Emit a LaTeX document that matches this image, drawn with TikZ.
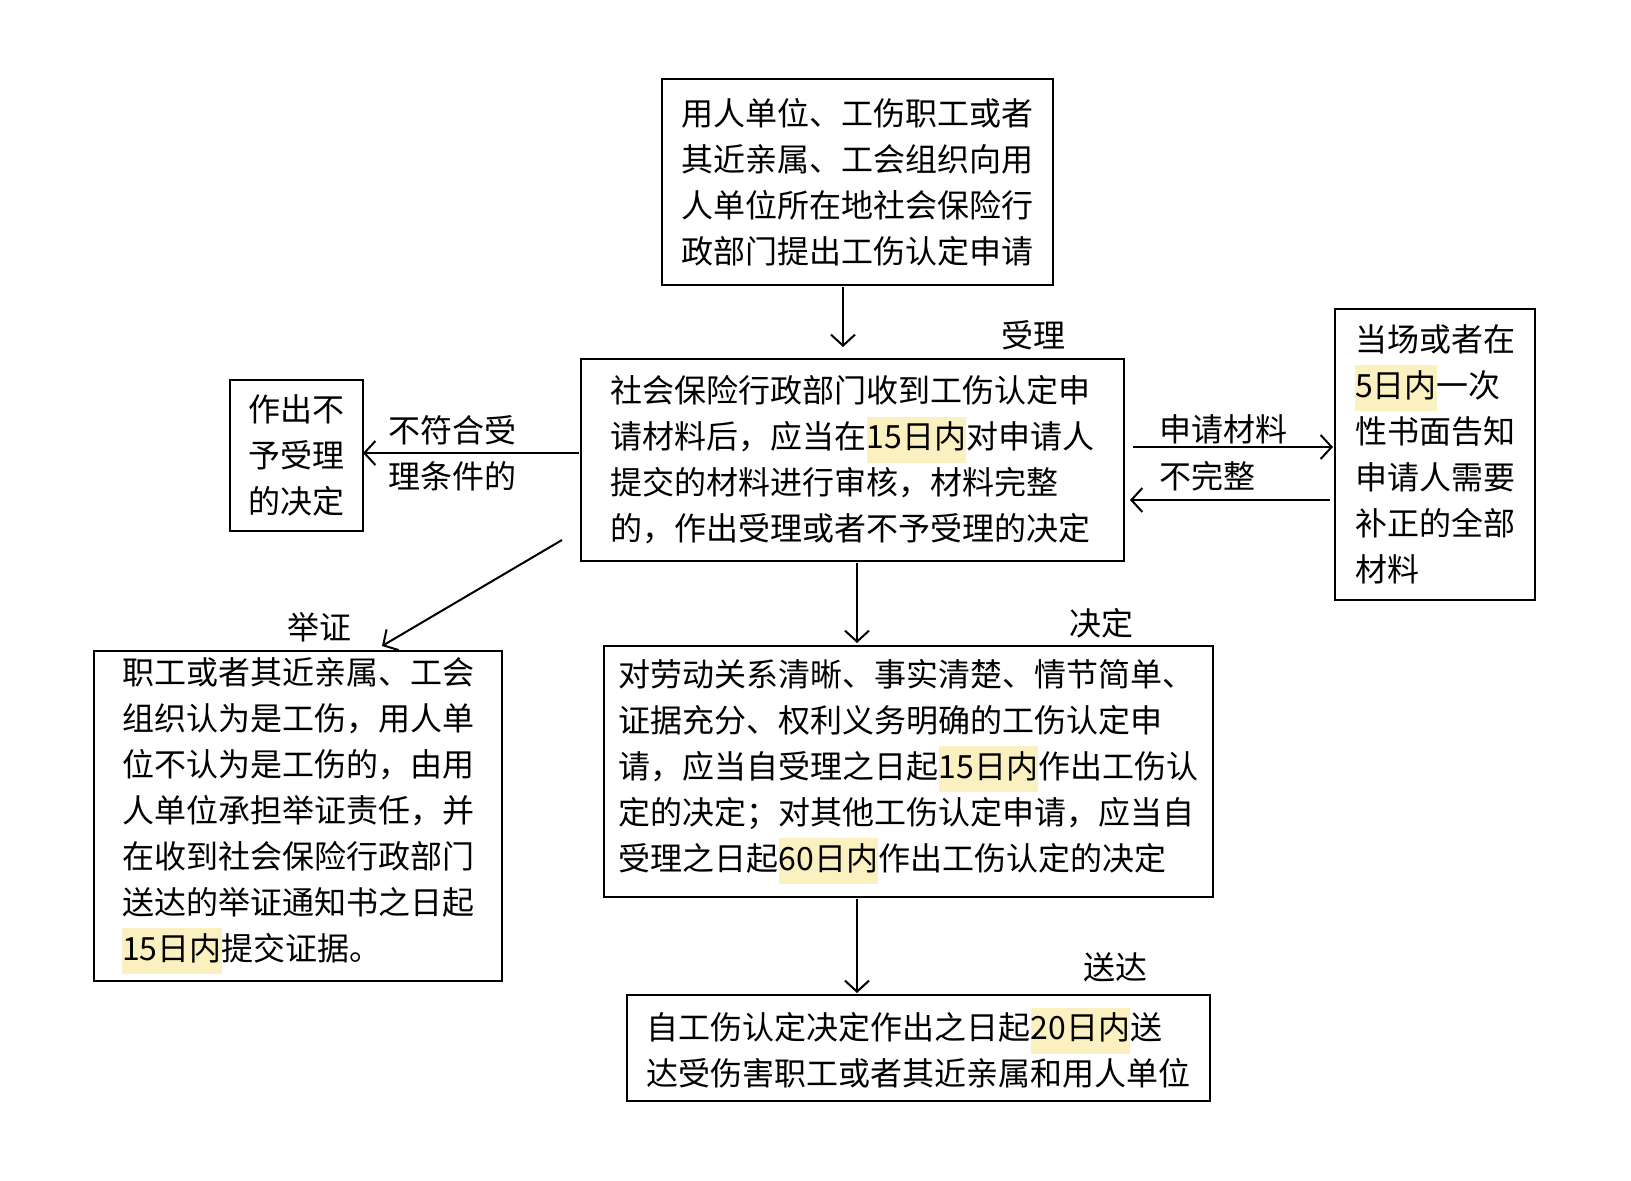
\documentclass[tikz,border=0pt]{standalone}
\usepackage{fontspec}
\setmainfont{Noto Sans CJK SC}
\usetikzlibrary{arrows.meta}
\definecolor{hlc}{HTML}{FBF0C0}
\newcommand{\hlt}[1]{{\setlength{\fboxsep}{0pt}\colorbox{hlc}{\strut #1}}}
\begin{document}
\begin{tikzpicture}[x=1pt,y=-1pt,
  box/.style={draw,line width=2.8pt,align=left,inner sep=4pt,font=\fontsize{32}{46}\selectfont},
  lbl/.style={align=left,inner sep=0pt,font=\fontsize{32}{46}\selectfont},
  arr/.style={line width=2pt,-{Straight Barb[length=11pt,width=24pt,line width=2pt]}}]
\useasboundingbox[fill=white] (0,0) rectangle (1631,1181);
\node[box,minimum width=391,minimum height=206] (top) at (857.5,182) {用人单位、工伤职工或者\\其近亲属、工会组织向用\\人单位所在地社会保险行\\政部门提出工伤认定申请};
\node[box,minimum width=543,minimum height=202] (mid) at (852.5,460) {社会保险行政部门收到工伤认定申\\请材料后，应当在\hlt{15日内}对申请人\\提交的材料进行审核，材料完整\\的，作出受理或者不予受理的决定};
\node[box,minimum width=133,minimum height=151] (left) at (296.5,455.5) {作出不\\予受理\\的决定};
\node[box,minimum width=200,minimum height=291] (right) at (1435,454.5) {当场或者在\\\hlt{5日内}一次\\性书面告知\\申请人需要\\补正的全部\\材料};
\node[box,minimum width=408,minimum height=330] (bl) at (298,816) {职工或者其近亲属、工会\\组织认为是工伤，用人单\\位不认为是工伤的，由用\\人单位承担举证责任，并\\在收到社会保险行政部门\\送达的举证通知书之日起\\\hlt{15日内}提交证据。};
\node[box,minimum width=609,minimum height=251,inner sep=2pt] (cen) at (908.5,771.5) {对劳动关系清晰、事实清楚、情节简单、\\证据充分、权利义务明确的工伤认定申\\请，应当自受理之日起\hlt{15日内}作出工伤认\\定的决定；对其他工伤认定申请，应当自\\受理之日起\hlt{60日内}作出工伤认定的决定};
\node[box,minimum width=583,minimum height=106] (bot) at (918.5,1048) {自工伤认定决定作出之日起\hlt{20日内}送\\达受伤害职工或者其近亲属和用人单位};
\node[lbl] (l1) at (1033,335) {受理};
\node[lbl] (l2) at (452,453) {不符合受\\理条件的};
\node[lbl] (l3) at (1223,429) {申请材料};
\node[lbl] (l4) at (1207,476) {不完整};
\node[lbl] (l5) at (319,627) {举证};
\node[lbl] (l6) at (1101,623) {决定};
\node[lbl] (l7) at (1115,967) {送达};
\coordinate (a1) at (843,287); \coordinate (a2) at (843,347);
\draw[arr] (a1) -- (a2);
\coordinate (b1) at (579,453); \coordinate (b2) at (363,453);
\draw[arr] (b1) -- (b2);
\coordinate (c1) at (1133,447); \coordinate (c2) at (1333,447);
\draw[arr] (c1) -- (c2);
\coordinate (d1) at (1330,500); \coordinate (d2) at (1130,500);
\draw[arr] (d1) -- (d2);
\coordinate (e1) at (562,540); \coordinate (e2) at (382,646);
\draw[arr] (e1) -- (e2);
\coordinate (f1) at (857,563); \coordinate (f2) at (857,643);
\draw[arr] (f1) -- (f2);
\coordinate (g1) at (857,899); \coordinate (g2) at (857,993);
\draw[arr] (g1) -- (g2);
\end{tikzpicture}
\end{document}
